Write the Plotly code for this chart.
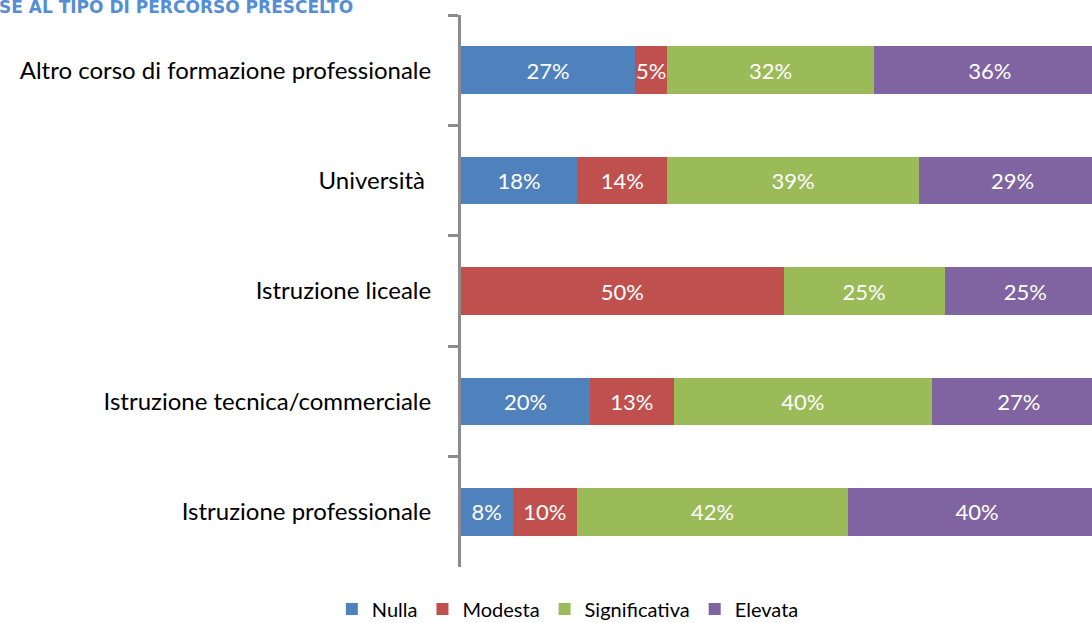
import plotly.graph_objects as go

categories = [
    "Altro corso di formazione professionale",
    "Università ",
    "Istruzione liceale",
    "Istruzione tecnica/commerciale",
    "Istruzione professionale",
]
series_names = ["Nulla", "Modesta", "Significativa", "Elevata"]
nulla = [27, 18, 0, 20, 8]
modesta = [5, 14, 50, 13, 10]
significativa = [32, 39, 25, 40, 42]
elevata = [36, 29, 25, 27, 40]
colors = ["#4F81BD", "#C0504D", "#9BBB59", "#8064A2"]
title_text = "SE AL TIPO DI PERCORSO PRESCELTO"

W, H = 1092, 623
L, T, B = 461, 15, 56
plot_w = W - L
plot_h = H - T - B
full_px = 645  # pixel width of 100%

fig = go.Figure()
for name, vals, col in zip(series_names, [nulla, modesta, significativa, elevata], colors):
    fig.add_trace(go.Bar(
        y=categories, x=vals, name=name, orientation="h",
        marker=dict(color=col, line=dict(width=0)),
        text=[f"{v}%" if v > 0 else "" for v in vals],
        textposition="inside", insidetextanchor="middle", textangle=0,
        textfont=dict(color="white", size=22, family="Lato"),
        constraintext="none",
        hoverinfo="skip",
    ))

fig.update_layout(
    width=W, height=H,
    barmode="stack", bargap=0.57,
    margin=dict(l=L, r=0, t=T, b=B, autoexpand=False),
    plot_bgcolor="white", paper_bgcolor="white",
    font=dict(family="Lato", size=22, color="black"),
    uniformtext=dict(mode="show", minsize=22),
    xaxis=dict(range=[0, 100 * plot_w / full_px], visible=False, fixedrange=True),
    yaxis=dict(
        autorange="reversed", type="category",
        showline=True, linecolor="#8C8C8C", linewidth=3,
        ticks="outside", tickson="boundaries", ticklen=10, tickwidth=3,
        tickcolor="#8C8C8C", showgrid=False, fixedrange=True,
        ticklabelstandoff=22,
        tickfont=dict(family="Lato", size=24, color="black"),
    ),
    legend=dict(
        orientation="h", xref="container", yref="paper",
        x=0.52, xanchor="center", y=-(609 - (T + plot_h)) / plot_h, yanchor="middle",
        font=dict(family="Lato", size=20, color="black"),
        itemwidth=30, traceorder="normal",
    ),
    showlegend=True,
)

fig.add_annotation(
    text=title_text, xref="paper", yref="paper",
    x=-(L + 3) / plot_w, xanchor="left",
    y=1 + (T - 7) / plot_h, yanchor="middle",
    showarrow=False,
    font=dict(family="DejaVu Sans", size=17, color="#558ED5", weight="bold"),
)

fig.write_html(
    "out.html",
    config={"displayModeBar": False},
    post_script="document.body.style.margin='0';document.body.style.overflow='hidden';",
)
